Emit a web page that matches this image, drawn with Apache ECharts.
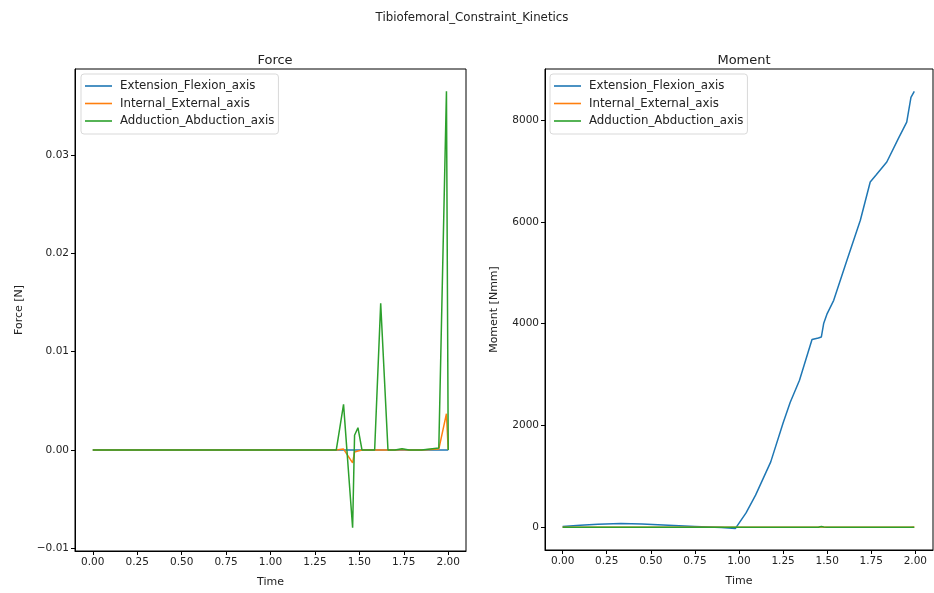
<!DOCTYPE html>
<html>
<head>
<meta charset="utf-8">
<script src="https://cdn.jsdelivr.net/npm/echarts@6/dist/echarts.min.js"></script>
<style>
  html, body { margin: 0; padding: 0; background: #fff; }
  #main { width: 934px; height: 593px; }
</style>
</head>
<body>
<div id="main"></div>
<script>
// series names
const names = ['Extension_Flexion_axis', 'Internal_External_axis', 'Adduction_Abduction_axis'];
const colors = ['#1f77b4', '#ff7f0e', '#2ca02c'];

// Force plot
const forceTime = [0, 0.25, 0.5, 0.75, 1.0, 1.25, 1.37, 1.411, 1.462, 1.473, 1.492, 1.515, 1.586, 1.62, 1.661, 1.70, 1.74, 1.78, 1.85, 1.947, 1.99, 2.0];
const forceExt  = [0, 0, 0, 0, 0, 0, 0, 0, 0, 0, 0, 0, 0, 0, 0, 0, 0, 0, 0, 0, 0, 0];
const forceInt  = [0, 0, 0, 0, 0, 0, 0, 0.0001, -0.0013, -0.0002, -0.0001, 0, 0, 0, 0, 0, 0.00005, 0, 0, 0.0001, 0.0037, 0];
const forceAdd  = [0, 0, 0, 0, 0, 0, 0, 0.00465, -0.0079, 0.0015, 0.00227, 0, 0, 0.01492, 0, 0, 0.00013, 0, 0, 0.0002, 0.0365, 0];

// Moment plot
const momentTime = [0, 0.1, 0.2, 0.33, 0.45, 0.6, 0.75, 0.9, 0.98, 1.04, 1.094, 1.18, 1.25, 1.29, 1.343, 1.414, 1.45, 1.467, 1.48, 1.5, 1.537, 1.612, 1.688, 1.744, 1.776, 1.838, 1.904, 1.951, 1.975, 1.994];
const momentExt  = [15, 40, 58, 70, 62, 40, 15, -8, -25, 280, 629, 1284, 2050, 2450, 2889, 3689, 3720, 3740, 4004, 4200, 4461, 5248, 6034, 6787, 6918, 7180, 7645, 7966, 8450, 8570];
const momentInt  = [0, 0, 0, 0, 0, 0, 0, 0, 0, 0, 0, 0, 0, 0, 0, 0, 0, 10, 5, 0, 0, 0, 0, 0, 0, 0, 0, 0, 0, 5];
const momentAdd  = [0, 0, 0, 0, 0, 0, 0, 0, 0, 0, 0, 0, 0, 0, 0, 0, 0, 15, 5, 0, 0, 0, 0, 0, 0, 0, 0, 0, 0, 0];

// tick labels
const timeTicks = [0, 0.25, 0.5, 0.75, 1.0, 1.25, 1.5, 1.75, 2.0];
const forceTicks = [-0.01, 0, 0.01, 0.02, 0.03];
const momentTicks = [0, 2000, 4000, 6000, 8000];

const font = 'DejaVu Sans';
const txt = '#222';

function pairs(t, v) {
  return t.map((x, i) => [x, v[i]]);
}

function xAxisFor(idx) {
  return {
    type: 'value', gridIndex: idx, min: -0.1, max: 2.1,
    name: 'Time', nameLocation: 'middle', nameGap: 26,
    nameTextStyle: { fontFamily: font, fontSize: 11, color: txt },
    axisLine: { onZero: false, lineStyle: { color: '#000', width: 1 } },
    axisTick: { customValues: timeTicks, length: 4, lineStyle: { color: '#000' } },
    axisLabel: { customValues: timeTicks, fontFamily: font, fontSize: 10.5, color: txt, margin: 6,
      formatter: v => v.toFixed(2) },
    splitLine: { show: false }
  };
}

function yAxisFor(idx, name, min, max, ticks, fmt, gap) {
  return {
    type: 'value', gridIndex: idx, min: min, max: max,
    name: name, nameLocation: 'middle', nameGap: gap,
    nameTextStyle: { fontFamily: font, fontSize: 11, color: txt },
    axisLine: { show: true, onZero: false, lineStyle: { color: '#000', width: 1 } },
    axisTick: { show: true, customValues: ticks, length: 4, lineStyle: { color: '#000' } },
    axisLabel: { customValues: ticks, fontFamily: font, fontSize: 10.5, color: txt, margin: 6,
      formatter: fmt },
    splitLine: { show: false }
  };
}

function legendAt(left) {
  return {
    left: left, top: 74, orient: 'vertical',
    data: names.map((n, i) => ({ name: n, icon: 'path://M0,0H27V1.6H0Z', itemStyle: { color: colors[i] } })),
    itemWidth: 27, itemHeight: 2, itemGap: 3.5,
    backgroundColor: '#fff', borderColor: '#d9d9d9', borderWidth: 1, borderRadius: 3,
    padding: [5, 4, 6, 4],
    textStyle: { fontFamily: font, fontSize: 11.8, color: txt, padding: [0, 0, 0, 3], lineHeight: 14 },
    selectedMode: false
  };
}

const series = [];
const forceVals = [forceExt, forceInt, forceAdd];
const momentVals = [momentExt, momentInt, momentAdd];
for (let i = 0; i < 3; i++) {
  series.push({
    name: names[i], type: 'line', xAxisIndex: 0, yAxisIndex: 0,
    data: pairs(forceTime, forceVals[i]), symbol: 'none', animation: false,
    lineStyle: { color: colors[i], width: 1.5 }, itemStyle: { color: colors[i] }
  });
}
for (let i = 0; i < 3; i++) {
  series.push({
    name: names[i], type: 'line', xAxisIndex: 1, yAxisIndex: 1,
    data: pairs(momentTime, momentVals[i]), symbol: 'none', animation: false,
    lineStyle: { color: colors[i], width: 1.5 }, itemStyle: { color: colors[i] }
  });
}

const chart = echarts.init(document.getElementById('main'));
chart.setOption({
  backgroundColor: '#fff',
  animation: false,
  title: [
    { text: 'Tibiofemoral_Constraint_Kinetics', left: 467, top: 7, textAlign: 'center',
      textStyle: { fontFamily: font, fontSize: 11.8, fontWeight: 'normal', color: txt } },
    { text: 'Force', left: 270, top: 49, textAlign: 'center',
      textStyle: { fontFamily: font, fontSize: 13, fontWeight: 'normal', color: txt } },
    { text: 'Moment', left: 739, top: 49, textAlign: 'center',
      textStyle: { fontFamily: font, fontSize: 13, fontWeight: 'normal', color: txt } }
  ],
  legend: [legendAt(81), legendAt(550)],
  grid: [
    { left: 75, right: 468, top: 69, bottom: 42, show: true, borderColor: '#000', borderWidth: 1, backgroundColor: 'transparent' },
    { left: 545, right: 1, top: 69, bottom: 43, show: true, borderColor: '#000', borderWidth: 1, backgroundColor: 'transparent' }
  ],
  xAxis: [xAxisFor(0), xAxisFor(1)],
  yAxis: [
    yAxisFor(0, 'Force [N]', -0.01027, 0.03876, forceTicks,
      v => (v < 0 ? '\u2212' : '') + Math.abs(v).toFixed(2), 50),
    yAxisFor(1, 'Moment [Nmm]', -449, 9009, momentTicks, v => String(v), 45)
  ],
  series: series
});
</script>
</body>
</html>
